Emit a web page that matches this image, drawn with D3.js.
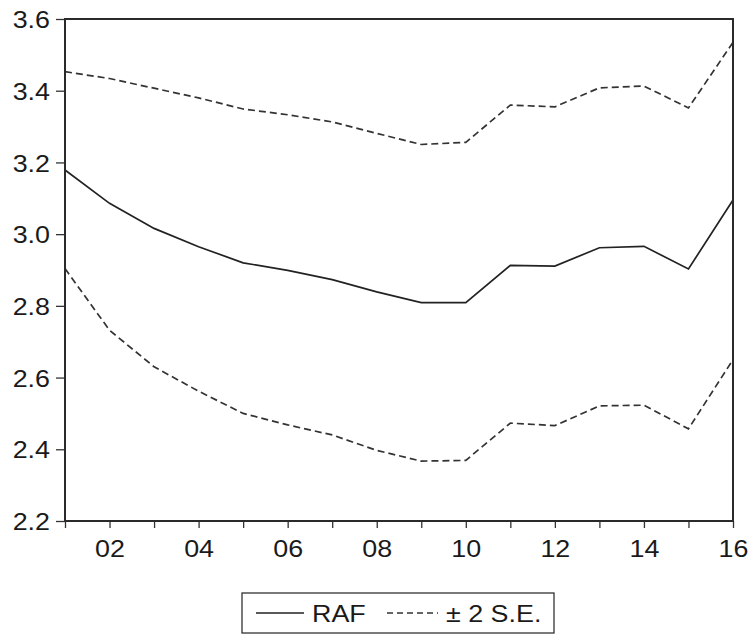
<!DOCTYPE html>
<html>
<head>
<meta charset="utf-8">
<script src="https://cdn.jsdelivr.net/npm/d3@7"></script>
<style>
  body { margin: 0; background: #fff; }
  svg text { font-family: "Liberation Sans", Arial, sans-serif; fill: #1a1a1a; }
</style>
</head>
<body>
<svg id="chart" width="750" height="636"></svg>
<script>
// years 2001..2016, shown as two-digit labels
var years = [1, 2, 3, 4, 5, 6, 7, 8, 9, 10, 11, 12, 13, 14, 15, 16];
var raf = [3.179, 3.086, 3.016, 2.965, 2.920, 2.899, 2.873, 2.839, 2.809, 2.809, 2.913, 2.911, 2.962, 2.966, 2.903, 3.095];
var upperSE = [3.453, 3.434, 3.407, 3.380, 3.349, 3.333, 3.313, 3.281, 3.250, 3.256, 3.360, 3.355, 3.408, 3.413, 3.352, 3.535];
var lowerSE = [2.904, 2.732, 2.630, 2.562, 2.500, 2.468, 2.440, 2.397, 2.367, 2.369, 2.473, 2.466, 2.521, 2.523, 2.457, 2.650];
var yTicks = [2.2, 2.4, 2.6, 2.8, 3.0, 3.2, 3.4, 3.6];
var xLabelYears = [2, 4, 6, 8, 10, 12, 14, 16];
var legendLabels = ['RAF', '\u00b1 2 S.E.'];

var margin = {top: 19, right: 17, bottom: 115, left: 65};
var svg = d3.select('#chart');
var width = +svg.attr('width') - margin.left - margin.right;
var height = +svg.attr('height') - margin.top - margin.bottom;
var fontSize = 24;
var stretch = 1.12; // the original lettering is drawn a little wide

var g = svg.append('g')
  .attr('transform', 'translate(' + margin.left + ',' + margin.top + ')');

var x = d3.scaleLinear().domain([1, 16]).range([0, width]);
var y = d3.scaleLinear().domain([2.2, 3.6]).range([height, 0]);

// y axis
var yAxis = g.append('g')
  .call(d3.axisLeft(y).tickValues(yTicks).tickFormat(d3.format('.1f')).tickSize(9));
yAxis.select('.domain').remove();
yAxis.selectAll('line').attr('stroke', '#333').attr('stroke-width', 1.3);
yAxis.selectAll('text')
  .attr('font-size', fontSize)
  .attr('dy', '0.36em')
  .attr('transform', 'scale(' + stretch + ',1)')
  .attr('x', -15 / stretch);

// x axis: a tick every year, a label every second year
var xAxis = g.append('g')
  .attr('transform', 'translate(0,' + height + ')')
  .call(d3.axisBottom(x).tickValues(years).tickSize(7)
    .tickFormat(function(d) { return xLabelYears.indexOf(d) >= 0 ? d3.format('02d')(d) : ''; }));
xAxis.select('.domain').remove();
xAxis.selectAll('line').attr('stroke', '#333').attr('stroke-width', 1.3);
xAxis.selectAll('text')
  .attr('font-size', fontSize)
  .attr('dy', '0.78em')
  .attr('transform', 'scale(' + stretch + ',1)')
  .attr('y', 17);

// series
var line = d3.line()
  .x(function(d, i) { return x(years[i]); })
  .y(function(d) { return y(d); });

g.append('path').datum(upperSE)
  .attr('d', line).attr('fill', 'none')
  .attr('stroke', '#333').attr('stroke-width', 1.7).attr('stroke-dasharray', '7,4');
g.append('path').datum(lowerSE)
  .attr('d', line).attr('fill', 'none')
  .attr('stroke', '#333').attr('stroke-width', 1.7).attr('stroke-dasharray', '7,4');
g.append('path').datum(raf)
  .attr('d', line).attr('fill', 'none')
  .attr('stroke', '#222').attr('stroke-width', 1.7);

// plot frame
g.append('rect')
  .attr('width', width).attr('height', height)
  .attr('fill', 'none').attr('stroke', '#2a2a2a').attr('stroke-width', 2);

// legend
var lg = svg.append('g').attr('transform', 'translate(242,593)');
lg.append('rect').attr('width', 312).attr('height', 40)
  .attr('fill', '#fff').attr('stroke', '#333').attr('stroke-width', 1.3);
lg.append('line').attr('x1', 14).attr('x2', 62).attr('y1', 20).attr('y2', 20)
  .attr('stroke', '#222').attr('stroke-width', 1.4);
lg.append('text').text(legendLabels[0])
  .attr('font-size', fontSize).attr('y', 29)
  .attr('transform', 'scale(' + stretch + ',1)').attr('x', 70 / stretch);
lg.append('line').attr('x1', 145).attr('x2', 196).attr('y1', 20).attr('y2', 20)
  .attr('stroke', '#333').attr('stroke-width', 1.4).attr('stroke-dasharray', '6,4');
lg.append('text').text(legendLabels[1])
  .attr('font-size', fontSize).attr('y', 29)
  .attr('transform', 'scale(' + stretch + ',1)').attr('x', 204 / stretch);
</script>
</body>
</html>
